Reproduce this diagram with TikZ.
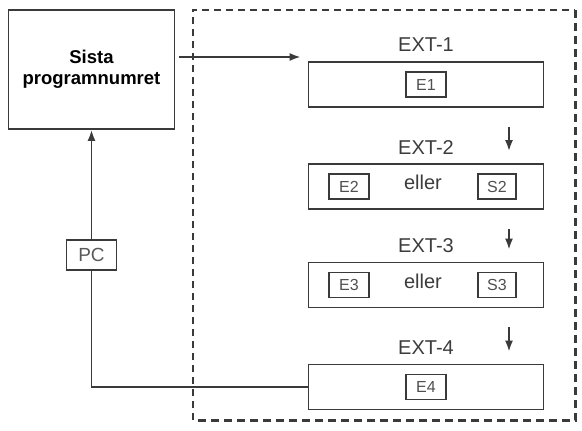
\documentclass[tikz,border=0pt]{standalone}
\usepackage{fontspec}
\setmainfont{Liberation Sans}
\usetikzlibrary{arrows.meta}

\definecolor{linegray}{HTML}{3A3A3A}
\definecolor{txtgray}{HTML}{3C3C3C}

\begin{document}
\begin{tikzpicture}[x=1pt,y=-1pt,
  box/.style={draw=linegray,line width=1.8pt,inner sep=0pt},
  extbox/.style={box,minimum width=235pt,minimum height=45pt},
  smallbox/.style={box,minimum width=40pt,minimum height=25pt,
    font=\fontsize{16}{16}\selectfont,text=txtgray!90},
  exttxt/.style={font=\fontsize{20}{20}\selectfont,text=txtgray,inner sep=0pt},
  arr/.style={draw=linegray,line width=1.8pt,-{Latex[length=11pt,width=8pt]}},
  thindash/.style={draw=linegray,line width=1.8pt,dash pattern=on 7pt off 5pt},
  thickdash/.style={draw=linegray,line width=2.8pt,dash pattern=on 8pt off 5pt}]
\useasboundingbox (0,0) rectangle (582,431);

% programnummer och yttre ram
\node[box,minimum width=166pt,minimum height=119pt,align=center,
  font=\bfseries\fontsize{18.5}{21}\selectfont] (prog) at (91.5,69.5)
  {Sista\\programnumret};
\node[minimum width=382pt,minimum height=410pt] (grp) at (384,215) {};
\draw[thindash] (grp.south west) |- (grp.north east);
\draw[thickdash] (grp.north east) |- (grp.south west);

% EXT-rader
\foreach \k/\y in {1/84.5,2/186.5,3/285,4/387}{
  \node[extbox] (ext\k) at (426,\y) {};
  \node[exttxt] (lab\k) at ([shift={(0,-16)}]ext\k.north) {EXT-\k};
}
\node[smallbox] (e1) at (ext1.center) {E1};
\node[smallbox] (e4) at (ext4.center) {E4};
\foreach \k in {2,3}{
  \node[smallbox] (e\k) at ([shift={(-77,0)}]ext\k.center) {E\k};
  \node[smallbox,minimum width=38pt] (s\k) at ([shift={(71,0)}]ext\k.center) {S\k};
  \node[exttxt] (or\k) at ([shift={(-3,-4)}]ext\k.center) {eller};
}

% pilar
\draw[arr] ([shift={(4,-12.5)}]prog.east) -- ([shift={(-7,-27.5)}]ext1.west);
\foreach \a/\b in {1/2,2/3,3/4}{
  \draw[arr] ([shift={(83,19)}]ext\a.south) -- ([shift={(83,-12)}]ext\b.north);
}

% återkoppling via PC
\node[box,minimum width=50pt,minimum height=30pt,
  font=\fontsize{19}{19}\selectfont,text=txtgray!85] (pc) at (91.5,255) {PC};
\draw[draw=linegray,line width=1.8pt] (ext4.west) -| (pc.south);
\draw[arr] (pc.north) -- (prog.south);
\end{tikzpicture}
\end{document}
